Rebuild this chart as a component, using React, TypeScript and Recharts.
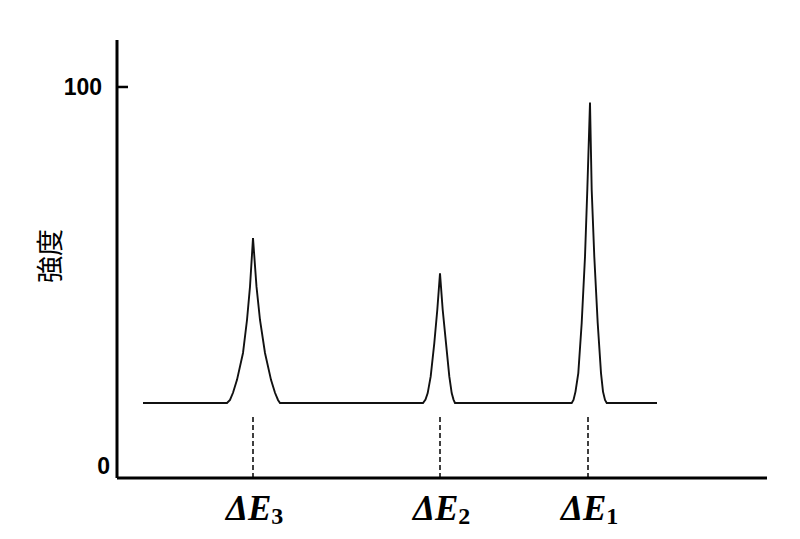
import { LineChart, Line, XAxis, YAxis, ReferenceLine } from "recharts";

// energy axis (arbitrary units) and intensity
const energy = [
  26, 110, 113, 116, 120, 126, 130, 133, 136, 139.5, 143, 148, 154, 158, 161, 163,
  306, 308.5, 310.7, 313.7, 317.3, 320.3, 323, 325.7, 329, 332.3, 334.7, 336.5, 338,
  454.7, 456.5, 458.5, 461.3, 464.7, 468, 470.3, 473, 474.7, 477.3, 480.7, 484, 486, 488, 489.7,
  540,
];
const intensity = [
  16.6, 16.6, 17.4, 19.3, 22.7, 29.8, 38.5, 47.3, 60.1, 47.3, 38.5, 29.8, 22.7, 19.3, 17.4, 16.6,
  16.6, 17.5, 19.2, 23.6, 32.4, 41.2, 50.8, 41.2, 32.4, 23.6, 19.2, 17.5, 16.6,
  16.6, 17.4, 19.6, 24.5, 37.7, 55.2, 72.8, 95.9, 72.8, 55.2, 37.7, 24.5, 19.6, 17.4, 16.6,
  16.6,
];

const peakPositions = [136, 323, 471];
const peakSubscripts = ["3", "2", "1"];
const yTicks = [0, 100];

const data = energy.map((e, i) => ({ e, v: intensity[i] }));

function YTick(props: any) {
  const { y, payload } = props;
  const is100 = payload.value === 100;
  return (
    <g>
      {is100 && <line x1={117} x2={128} y1={y} y2={y} stroke="#000" strokeWidth={2.5} />}
      <text
        x={is100 ? 102 : 110}
        y={y}
        dy={8}
        textAnchor="end"
        style={{ fontFamily: "Liberation Sans, Arial, sans-serif", fontWeight: 700, fontSize: 23 }}
        fill="#000"
      >
        {payload.value}
      </text>
    </g>
  );
}

function XTick(props: any) {
  const { x, payload } = props;
  const idx = peakPositions.indexOf(payload.value);
  return (
    <text
      x={x - 27}
      y={520}
      style={{
        fontFamily: "Liberation Serif, Times New Roman, serif",
        fontWeight: 700,
        fontStyle: "italic",
        fontSize: 35,
      }}
      fill="#000"
    >
      ΔE
      <tspan style={{ fontSize: 24, fontStyle: "normal" }} dy={4}>
        {peakSubscripts[idx]}
      </tspan>
    </text>
  );
}

export default function App() {
  return (
    <div style={{ position: "absolute", left: 0, top: 0, background: "#fff" }}>
      <LineChart
        width={800}
        height={539}
        data={data}
        margin={{ top: 40, right: 33, bottom: 0, left: 0 }}
      >
        <XAxis
          dataKey="e"
          type="number"
          domain={[0, 650]}
          ticks={peakPositions}
          tick={<XTick />}
          tickLine={false}
          axisLine={{ stroke: "#000", strokeWidth: 3 }}
          height={61}
        />
        <YAxis
          type="number"
          domain={[-3.2, 112.4]}
          ticks={yTicks}
          tick={<YTick />}
          tickLine={false}
          axisLine={{ stroke: "#000", strokeWidth: 3 }}
          width={117}
        />
        {peakPositions.map((p) => (
          <ReferenceLine
            key={p}
            segment={[
              { x: p, y: 12.9 },
              { x: p, y: -3.2 },
            ]}
            stroke="#000"
            strokeWidth={1.5}
            strokeDasharray="5 3"
          />
        ))}
        <Line
          type="linear"
          dataKey="v"
          stroke="#111"
          strokeWidth={1.9}
          dot={false}
          isAnimationActive={false}
        />
        <text
          x={48}
          y={256}
          transform="rotate(-90 48 256)"
          textAnchor="middle"
          dominantBaseline="central"
          style={{ fontFamily: "Noto Sans CJK JP, sans-serif", fontSize: 27 }}
          fill="#000"
        >
          強度
        </text>
      </LineChart>
    </div>
  );
}
